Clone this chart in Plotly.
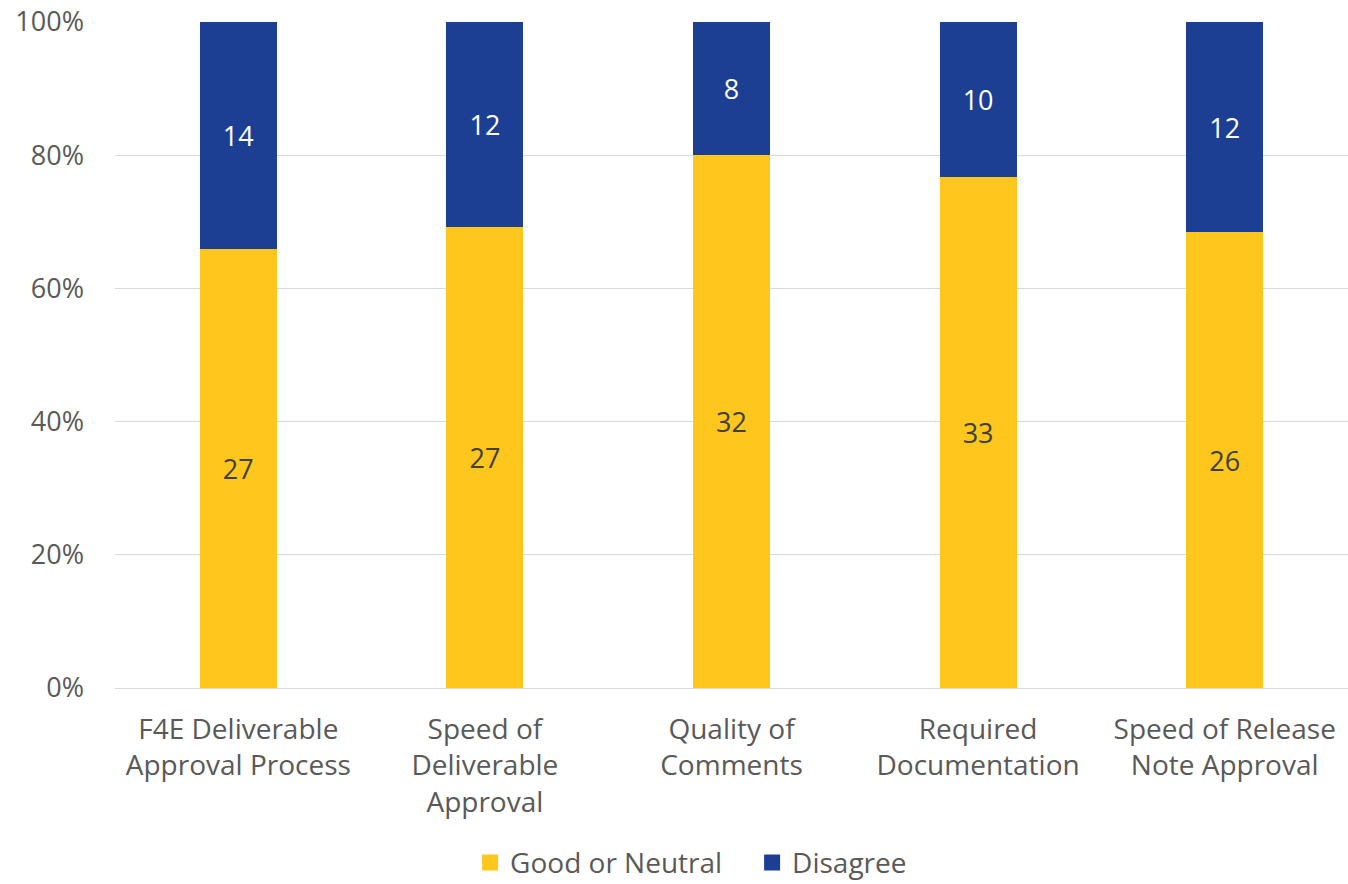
import plotly.graph_objects as go

categories = [
    "F4E Deliverable<br>Approval Process",
    "Speed of<br>Deliverable<br>Approval",
    "Quality of<br>Comments",
    "Required<br>Documentation",
    "Speed of Release<br>Note Approval",
]
good_or_neutral = [27, 27, 32, 33, 26]
disagree = [14, 12, 8, 10, 12]
pct_ticks = [0, 20, 40, 60, 80, 100]
pct_labels = ["0%", "20%", "40%", "60%", "80%", "100%"]

FONT = "Open Sans"
GRAY = "#595959"
YELLOW = "#FFC61E"
BLUE = "#1C3F94"

fig = go.Figure()
fig.add_trace(go.Bar(
    name="Good or Neutral", x=categories, y=good_or_neutral,
    text=good_or_neutral, textposition="inside", insidetextanchor="middle",
    textfont=dict(family=FONT, size=27, color="#404040"),
    marker=dict(color=YELLOW, line=dict(width=0)),
    showlegend=False,
))
fig.add_trace(go.Bar(
    name="Disagree", x=categories, y=disagree,
    text=disagree, textposition="inside", insidetextanchor="middle",
    textfont=dict(family=FONT, size=27, color="white"),
    marker=dict(color=BLUE, line=dict(width=0)),
    showlegend=False,
))

# legend entries with larger square swatches
for name, color in [("Good or Neutral", YELLOW), ("Disagree", BLUE)]:
    fig.add_trace(go.Scatter(
        x=[None], y=[None], mode="markers", name=name,
        marker=dict(symbol="square", size=17, color=color),
        showlegend=True,
    ))

fig.update_layout(
    barmode="stack", barnorm="percent", bargap=0.688,
    width=1348, height=884,
    margin=dict(l=115, r=0, t=22, b=196, autoexpand=False),
    plot_bgcolor="white", paper_bgcolor="white",
    font=dict(family=FONT, size=28, color=GRAY),
    uniformtext=dict(mode="show", minsize=10),
    legend=dict(orientation="h", x=0.288, xanchor="left", y=-0.30, yanchor="bottom",
                font=dict(family=FONT, size=28, color=GRAY), traceorder="normal",
                itemsizing="trace", itemwidth=30, tracegroupgap=0,
                entrywidth=237, entrywidthmode="pixels"),
    showlegend=True,
)
fig.update_yaxes(
    range=[0, 100], tickmode="array", tickvals=pct_ticks, ticktext=pct_labels,
    showgrid=True, gridcolor="#D9D9D9", gridwidth=1.3,
    zeroline=True, zerolinecolor="#D9D9D9", zerolinewidth=1.3,
    showline=False, ticks="", ticklabelstandoff=30,
    tickfont=dict(family=FONT, size=27, color=GRAY),
)
fig.update_xaxes(
    showgrid=False, showline=False, ticks="", ticklabelstandoff=22,
    tickfont=dict(family=FONT, size=28, color=GRAY),
)

fig.write_html("out.html")
